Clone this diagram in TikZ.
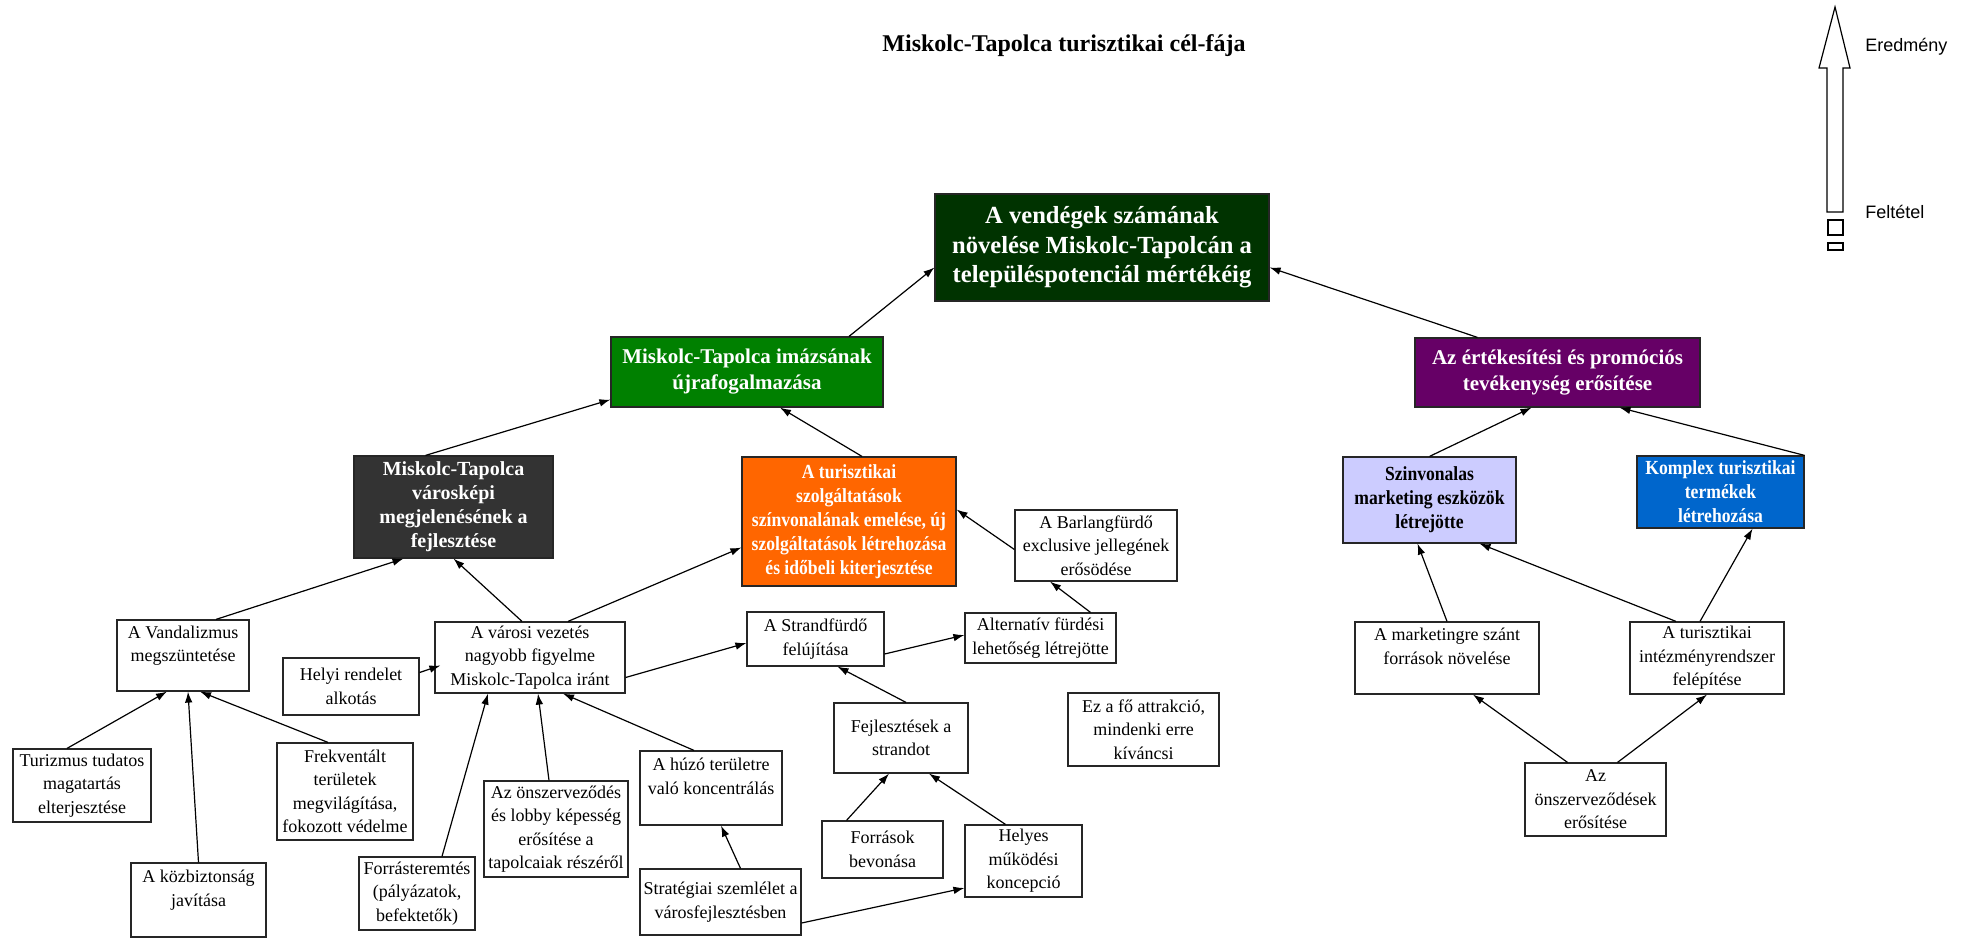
\documentclass[tikz,border=0pt]{standalone}
\usepackage{fontspec}
\setmainfont{Liberation Serif}
\newfontfamily\keskeny{Liberation Serif}[FakeStretch=0.88]
\newfontfamily\jelfont{Liberation Sans}
\usetikzlibrary{arrows.meta}
\definecolor{sotetzold}{RGB}{0,51,0}
\definecolor{zold}{RGB}{0,128,0}
\definecolor{szurke}{RGB}{51,51,51}
\definecolor{narancs}{RGB}{255,102,0}
\definecolor{lila}{RGB}{102,0,102}
\definecolor{halvany}{RGB}{204,204,255}
\definecolor{kek}{RGB}{0,102,204}
\begin{document}
\begin{tikzpicture}[x=0.5pt,y=-0.5pt,
  cel/.style={draw=black!85, fill=white, line width=0.6pt, inner sep=0pt, align=center,
    font=\fontsize{9}{11.75}\selectfont},
  fo/.style={cel, text=white, font=\bfseries\fontsize{10}{12}\selectfont},
  fosz/.style={fo, font=\keskeny\bfseries\fontsize{10}{12}\selectfont},
  nagy/.style={fo, font=\bfseries\fontsize{10.5}{13}\selectfont},
  nyil/.style={-{Latex[length=5.5pt,width=3.8pt]}, line width=0.6pt}]
  \useasboundingbox (0,0) rectangle (1968,938);

  \node[font=\bfseries\fontsize{12}{14}\selectfont] (cim) at (1064,46) {Miskolc-Tapolca turisztikai cél-fája};

  % jelmagyarazat
  \draw[line width=0.6pt, fill=white] (1827,212) -- (1827,68) -- (1819,68) -- (1835,7)
     -- (1850,68) -- (1843,68) -- (1843,212) -- cycle;
  \draw[line width=0.6pt] (1828,220) rectangle (1843,235);
  \draw[line width=0.6pt] (1828,243) rectangle (1843,250);
  \node[anchor=west, font=\jelfont\fontsize{9}{11}\selectfont, inner sep=0pt] (eredmeny) at (1865,47) {Eredmény};
  \node[anchor=west, font=\jelfont\fontsize{9}{11}\selectfont, inner sep=0pt] (feltetel) at (1865,212) {Feltétel};

  % celok
  \node[fo, fill=sotetzold, minimum width=167pt, minimum height=53.5pt,
        font=\bfseries\fontsize{12.3}{14.75}\selectfont] (cel) at (1102,247.5)
    {A vendégek számának\\ növelése Miskolc-Tapolcán a\\ településpotenciál mértékéig};
  \node[nagy, fill=zold, minimum width=136pt, minimum height=35pt] (imazs) at (747,372)
    {Miskolc-Tapolca imázsának\\ újrafogalmazása};
  \node[nagy, fill=lila, minimum width=142.5pt, minimum height=34.5pt] (ertek) at (1557.5,372.5)
    {Az értékesítési és promóciós\\ tevékenység erősítése};
  \node[fo, fill=szurke, minimum width=99.5pt, minimum height=51pt] (varoskep) at (453.5,507)
    {Miskolc-Tapolca\\ városképi\\ megjelenésének a\\ fejlesztése};
  \node[fosz, fill=narancs, minimum width=107pt, minimum height=64.5pt] (szolg) at (849,521.5)
    {A turisztikai\\ szolgáltatások\\ színvonalának emelése, új\\ szolgáltatások létrehozása\\ és időbeli kiterjesztése};
  \node[fosz, fill=halvany, text=black, minimum width=86.5pt, minimum height=43pt] (szinv) at (1429.5,500)
    {Szinvonalas\\ marketing eszközök\\ létrejötte};
  \node[fosz, fill=kek, minimum width=83.5pt, minimum height=36pt] (komplex) at (1720.5,492)
    {Komplex turisztikai\\ termékek\\ létrehozása};

  % eszkozok
  \node[cel, minimum width=81pt, minimum height=35.5pt] (barlang) at (1096,545.5)
    {A Barlangfürdő\\ exclusive jellegének\\ erősödése};
  \node[cel, minimum width=66pt, minimum height=35.5pt] (vandal) at (183,655.5)
    {A Vandalizmus\\ megszüntetése\\ ~};
  \node[cel, minimum width=68pt, minimum height=28.5pt] (helyi) at (351,686.5)
    {Helyi rendelet\\ alkotás};
  \node[cel, minimum width=95pt, minimum height=35.5pt] (varosi) at (530,657.5)
    {A városi vezetés\\ nagyobb figyelme\\ Miskolc-Tapolca iránt};
  \node[cel, minimum width=68.5pt, minimum height=27pt] (strand) at (815.5,639)
    {A Strandfürdő\\ felújítása};
  \node[cel, minimum width=75.5pt, minimum height=25pt] (altern) at (1040.5,638)
    {Alternatív fürdési\\ lehetőség létrejötte};
  \node[cel, minimum width=92pt, minimum height=36pt] (marketing) at (1447,658)
    {A marketingre szánt\\ források növelése\\ ~};
  \node[cel, minimum width=77pt, minimum height=36pt] (intezmeny) at (1707,658)
    {A turisztikai\\ intézményrendszer\\ felépítése};
  \node[cel, minimum width=69pt, minimum height=36.5pt] (turizmus) at (82,785.5)
    {Turizmus tudatos\\ magatartás\\ elterjesztése};
  \node[cel, minimum width=68pt, minimum height=48.5pt] (frekv) at (345,791.5)
    {Frekventált\\ területek\\ megvilágítása,\\ fokozott védelme};
  \node[cel, minimum width=67.5pt, minimum height=37pt] (kozbiz) at (198.5,900)
    {A közbiztonság\\ javítása\\ ~};
  \node[cel, minimum width=58pt, minimum height=36.5pt] (forras) at (417,893.5)
    {Forrásteremtés\\ (pályázatok,\\ befektetők)};
  \node[cel, minimum width=72pt, minimum height=48pt] (lobby) at (556,829)
    {Az önszerveződés\\ és lobby képesség\\ erősítése a\\ tapolcaiak részéről};
  \node[cel, minimum width=71pt, minimum height=37pt] (huzo) at (711,788)
    {A húzó területre\\ való koncentrálás\\ ~};
  \node[cel, minimum width=67pt, minimum height=35pt] (fejl) at (901,738)
    {Fejlesztések a\\ strandot};
  \node[cel, minimum width=75.5pt, minimum height=36.5pt] (attrakcio) at (1143.5,729.5)
    {Ez a fő attrakció,\\ mindenki erre\\ kíváncsi};
  \node[cel, minimum width=80.5pt, minimum height=33pt] (strat) at (720.5,902)
    {Stratégiai szemlélet a\\ városfejlesztésben};
  \node[cel, minimum width=60.5pt, minimum height=28.5pt] (forrasok) at (882.5,849.5)
    {Források\\ bevonása};
  \node[cel, minimum width=58.5pt, minimum height=36pt] (helyes) at (1023.5,861)
    {Helyes\\ működési\\ koncepció};
  \node[cel, minimum width=70.5pt, minimum height=36.5pt] (onszerv) at (1595.5,799.5)
    {Az\\ önszerveződések\\ erősítése};

  % kapcsolatok
  \draw[nyil] ([xshift=51pt]imazs.north) -- ([yshift=-10pt]cel.west);
  \draw[nyil] ([xshift=-40pt]ertek.north) -- ([yshift=-10pt]cel.east);
  \draw[nyil] ([xshift=-14pt]varoskep.north) -- ([yshift=4pt]imazs.south west);
  \draw[nyil] ([xshift=6.5pt]szolg.north) -- ([xshift=16.5pt]imazs.south);
  \draw[nyil] ([xshift=16.5pt]vandal.north) -- ([xshift=-25pt]varoskep.south);
  \draw[nyil] ([xshift=-4pt]varosi.north) -- (varoskep.south);
  \draw[nyil] ([xshift=19pt]varosi.north) -- ([yshift=-13pt]szolg.west);
  \draw[nyil] ([yshift=-2pt]barlang.west) -- ([yshift=6pt]szolg.east);
  \draw[nyil] ([xshift=25pt]altern.north) -- ([xshift=-23pt]barlang.south);
  \draw[nyil] ([yshift=-7.5pt]strand.east) -- ([yshift=1.5pt]altern.west);
  \draw[nyil] ([yshift=-10pt]varosi.east) -- ([yshift=-2pt]strand.west);
  \draw[nyil] ([yshift=7pt]helyi.east) -- ([xshift=3pt,yshift=-4pt]varosi.west);
  \draw[nyil] ([xshift=-7.5pt]turizmus.north) -- ([xshift=-8pt]vandal.south);
  \draw[nyil] ([xshift=-8.5pt]frekv.north) -- ([xshift=8.5pt]vandal.south);
  \draw[nyil] (kozbiz.north) -- ([xshift=2.5pt]vandal.south);
  \draw[nyil] ([xshift=12.5pt]forras.north) -- ([xshift=-21pt]varosi.south);
  \draw[nyil] ([xshift=-3.5pt]lobby.north) -- ([xshift=4pt]varosi.south);
  \draw[nyil] ([xshift=-8.5pt]huzo.north) -- ([xshift=16.5pt]varosi.south);
  \draw[nyil] ([xshift=10pt]strat.north) -- ([xshift=5pt]huzo.south);
  \draw[nyil] ([yshift=-10.5pt]strat.east) -- ([yshift=-13.5pt]helyes.west);
  \draw[nyil] ([xshift=2.5pt]fejl.north) -- ([xshift=11pt]strand.south);
  \draw[nyil] ([xshift=-18pt]forrasok.north) -- ([xshift=-6pt]fejl.south);
  \draw[nyil] ([xshift=-9pt]helyes.north) -- ([xshift=14pt]fejl.south);
  \draw[nyil] (szinv.north) -- ([xshift=-13pt]ertek.south);
  \draw[nyil] (komplex.north east) -- ([xshift=31pt]ertek.south);
  \draw[nyil] (marketing.north) -- ([xshift=-6pt]szinv.south);
  \draw[nyil] ([xshift=-15.5pt]intezmeny.north) -- ([xshift=25pt]szinv.south);
  \draw[nyil] ([xshift=-3.5pt]intezmeny.north) -- ([xshift=16pt]komplex.south);
  \draw[nyil] ([xshift=-14pt]onszerv.north) -- ([xshift=13pt]marketing.south);
  \draw[nyil] ([xshift=11pt]onszerv.north) -- (intezmeny.south);
\end{tikzpicture}
\end{document}
